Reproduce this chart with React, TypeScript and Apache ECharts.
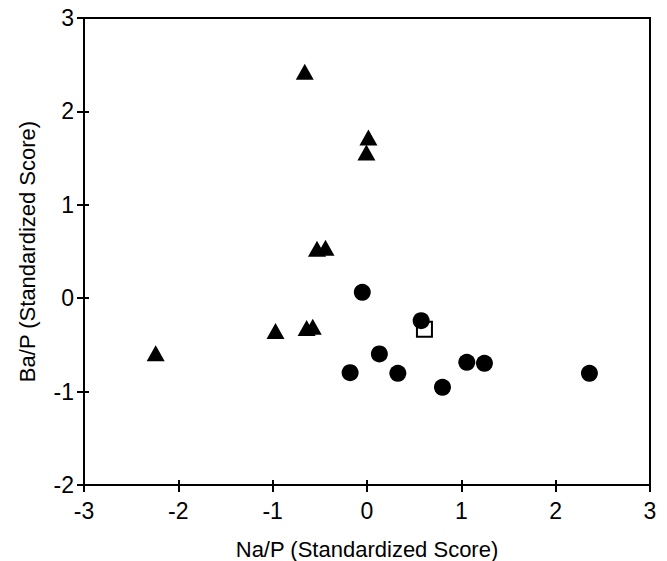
import React, { useEffect, useRef } from "react";
import * as echarts from "echarts";

const triangleX = [-0.66, 0.015, -0.006, -0.53, -0.44, -2.24, -0.97, -0.64, -0.575];
const triangleY = [2.425, 1.72, 1.56, 0.53, 0.54, -0.59, -0.35, -0.32, -0.305];
const circleX = [-0.05, 0.574, 0.131, -0.179, 0.327, 0.8, 1.058, 1.245, 2.358];
const circleY = [0.063, -0.241, -0.597, -0.798, -0.804, -0.954, -0.686, -0.697, -0.804];
const squareX = [0.609];
const squareY = [-0.333];

const xName = "Na/P (Standardized Score)";
const yName = "Ba/P (Standardized Score)";

const zip = (xs: number[], ys: number[]) => xs.map((x, i) => [x, ys[i]]);

export default function App() {
  const ref = useRef<HTMLDivElement>(null);
  useEffect(() => {
    document.body.style.margin = "0";
    if (!ref.current) return;
    const chart = echarts.init(ref.current, undefined, { renderer: "svg" });
    const font = "Liberation Sans, Arial, sans-serif";
    const line = { lineStyle: { color: "#000", width: 2 } };
    chart.setOption({
      animation: false,
      backgroundColor: "#fff",
      grid: {
        left: 84,
        right: 17,
        top: 18,
        bottom: 76,
        outerBoundsMode: "none",
        containLabel: false,
        show: true,
        borderColor: "#000",
        borderWidth: 2,
        backgroundColor: "transparent",
      },
      xAxis: [
        {
          type: "value",
          min: -3,
          max: 3,
          interval: 1,
          position: "bottom",
          axisLine: { show: true, onZero: false, ...line },
          axisTick: { show: true, length: 7, inside: false, ...line },
          splitLine: { show: false },
          axisLabel: { color: "#000", fontSize: 23, fontFamily: font, margin: 14 },
          name: xName,
          nameLocation: "middle",
          nameGap: 53,
          nameTextStyle: { color: "#000", fontSize: 22, fontFamily: font },
        },
        {
          type: "value",
          min: -3,
          max: 3,
          interval: 1,
          position: "bottom",
          axisLine: { show: false, onZero: false },
          axisTick: { show: true, length: 5, inside: true, ...line },
          splitLine: { show: false },
          axisLabel: { show: false },
        },
      ],
      yAxis: [
        {
          type: "value",
          min: -2,
          max: 3,
          interval: 1,
          position: "left",
          axisLine: { show: true, onZero: false, ...line },
          axisTick: { show: true, length: 7, inside: false, ...line },
          splitLine: { show: false },
          axisLabel: { color: "#000", fontSize: 23, fontFamily: font, margin: 10 },
          name: yName,
          nameLocation: "middle",
          nameGap: 46,
          nameTextStyle: { color: "#000", fontSize: 22, fontFamily: font },
        },
        {
          type: "value",
          min: -2,
          max: 3,
          interval: 1,
          position: "left",
          axisLine: { show: false, onZero: false },
          axisTick: { show: true, length: 5, inside: true, ...line },
          splitLine: { show: false },
          axisLabel: { show: false },
        },
      ],
      series: [
        {
          type: "scatter",
          data: zip(squareX, squareY),
          symbol: "rect",
          symbolSize: 15,
          itemStyle: { color: "#fff", borderColor: "#000", borderWidth: 2, opacity: 1 },
        },
        {
          type: "scatter",
          data: zip(circleX, circleY),
          symbol: "circle",
          symbolSize: 17,
          itemStyle: { color: "#000", opacity: 1 },
        },
        {
          type: "scatter",
          data: zip(triangleX, triangleY),
          symbol: "triangle",
          symbolSize: [18, 16],
          itemStyle: { color: "#000", opacity: 1 },
        },
      ],
    });
    return () => chart.dispose();
  }, []);
  return <div ref={ref} style={{ width: 667, height: 561 }} />;
}
